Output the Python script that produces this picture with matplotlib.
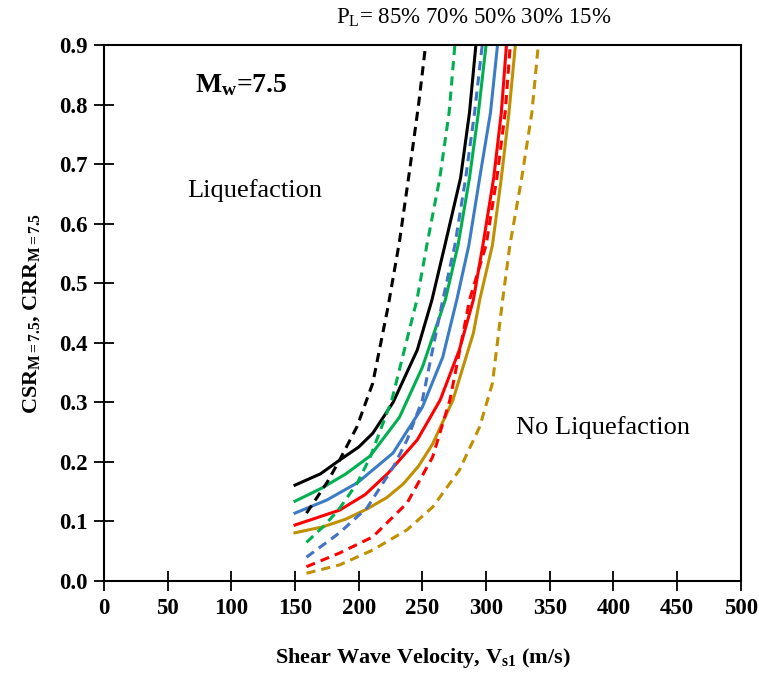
import matplotlib.pyplot as plt

plt.rcParams['font.family'] = 'Liberation Serif'
plt.rcParams['mathtext.fontset'] = 'custom'
plt.rcParams['mathtext.rm'] = 'Liberation Serif'
plt.rcParams['mathtext.it'] = 'Liberation Serif:italic'
plt.rcParams['mathtext.bf'] = 'Liberation Serif:bold'

# Solid curves (PL = 85%, 70%, 50%, 30%, 15%)
vs_black = [150, 170, 185, 200, 211, 227, 246, 257.5, 267.7, 280, 287, 292]
crr_black = [0.161, 0.180, 0.203, 0.225, 0.248, 0.300, 0.388, 0.472, 0.564, 0.677, 0.787, 0.90]

vs_green = [150, 171, 190, 209, 232, 250, 268, 278, 287, 294, 300]
crr_green = [0.134, 0.156, 0.180, 0.210, 0.275, 0.359, 0.472, 0.564, 0.677, 0.787, 0.90]

vs_blue = [150, 175, 199, 227, 250, 266, 277, 286.5, 295, 303.5, 309]
crr_blue = [0.114, 0.136, 0.165, 0.215, 0.292, 0.376, 0.472, 0.564, 0.677, 0.787, 0.90]

vs_red = [150, 185, 205, 223, 246, 264, 279, 290, 297.5, 306, 312, 316]
crr_red = [0.094, 0.119, 0.145, 0.181, 0.237, 0.304, 0.388, 0.472, 0.564, 0.677, 0.787, 0.90]

vs_gold = [150, 172, 190, 206.6, 222, 235, 247, 258, 274, 290, 295, 305, 312, 318, 323]
crr_gold = [0.081, 0.091, 0.104, 0.121, 0.140, 0.163, 0.193, 0.230, 0.304, 0.416, 0.472, 0.564, 0.677, 0.787, 0.90]

# Dashed curves
vs_black_d = [159, 175, 185, 198.6, 211, 223, 232, 240, 247, 252]
crr_black_d = [0.114, 0.165, 0.203, 0.259, 0.332, 0.46, 0.57, 0.69, 0.80, 0.89]

vs_green_d = [159, 172, 184, 199, 209, 226, 245.7, 253.5, 263.7, 271, 275.5]
crr_green_d = [0.065, 0.091, 0.119, 0.165, 0.208, 0.304, 0.472, 0.564, 0.677, 0.787, 0.90]

vs_blue_d = [159, 185, 206.6, 227, 238, 250, 266, 275.5, 284, 291, 297]
crr_blue_d = [0.040, 0.081, 0.123, 0.191, 0.237, 0.304, 0.472, 0.564, 0.677, 0.787, 0.90]

vs_red_d = [159, 185, 211, 238, 258, 271.6, 282, 287, 300, 308.5, 315, 319]
crr_red_d = [0.024, 0.047, 0.074, 0.131, 0.208, 0.304, 0.416, 0.472, 0.564, 0.677, 0.787, 0.90]

vs_gold_d = [159, 185, 211, 238, 258, 279, 295, 305, 313, 318.7, 328, 336, 341]
crr_gold_d = [0.013, 0.027, 0.052, 0.086, 0.124, 0.186, 0.259, 0.332, 0.472, 0.564, 0.677, 0.787, 0.90]

fig = plt.figure(figsize=(7.59, 6.73), dpi=100)
ax = fig.add_axes([0.137, 0.1367, 0.839, 0.7963])

lw = 2.2
ax.plot(vs_black, crr_black, color='black', lw=lw)
ax.plot(vs_green, crr_green, color='#00B050', lw=lw)
ax.plot(vs_blue, crr_blue, color='#3B7DC4', lw=lw)
ax.plot(vs_red, crr_red, color='#FF0000', lw=lw)
ax.plot(vs_gold, crr_gold, color='#C09000', lw=lw)

dash = (0, (3, 2))
ax.plot(vs_black_d, crr_black_d, color='black', lw=lw, linestyle=dash)
ax.plot(vs_green_d, crr_green_d, color='#00B050', lw=lw, linestyle=dash)
ax.plot(vs_blue_d, crr_blue_d, color='#4472C4', lw=lw, linestyle=dash)
ax.plot(vs_red_d, crr_red_d, color='#FF0000', lw=lw, linestyle=dash)
ax.plot(vs_gold_d, crr_gold_d, color='#C09000', lw=lw, linestyle=dash)

ax.set_xlim(0, 500)
ax.set_ylim(0, 0.9)
ax.set_xticks(range(0, 501, 50))
ax.set_yticks([i / 10 for i in range(10)])
ax.set_yticklabels([f'{i / 10:.1f}' for i in range(10)])
ax.tick_params(direction='inout', length=14, width=1.3, labelsize=16.5, pad=5)
for lab in ax.get_xticklabels() + ax.get_yticklabels():
    lab.set_fontweight('bold')
for sp in ax.spines.values():
    sp.set_linewidth(1.5)

ax.set_xlabel(r'Shear Wave Velocity, V$_{\mathbf{s1}}$ (m/s)', fontsize=16,
              fontweight='bold', labelpad=20)
ax.set_ylabel(r'CSR$_{\mathbf{M=7.5}}$, CRR$_{\mathbf{M=7.5}}$', fontsize=16,
              fontweight='bold', labelpad=12)

ax.text(108, 0.833, r'M$_{\mathbf{w}}$=7.5', fontsize=20, fontweight='bold',
        ha='center', va='center')
ax.text(118.5, 0.656, 'Liquefaction', fontsize=19, ha='center', va='center')
ax.text(391.7, 0.257, 'No Liquefaction', fontsize=19, ha='center', va='center')
fig.text(0.6245, 0.973, r'P$_{\mathrm{L}}$= 85% 70% 50% 30% 15%', fontsize=16.5,
         ha='center', va='center')

fig.savefig('out.png', dpi=100)
